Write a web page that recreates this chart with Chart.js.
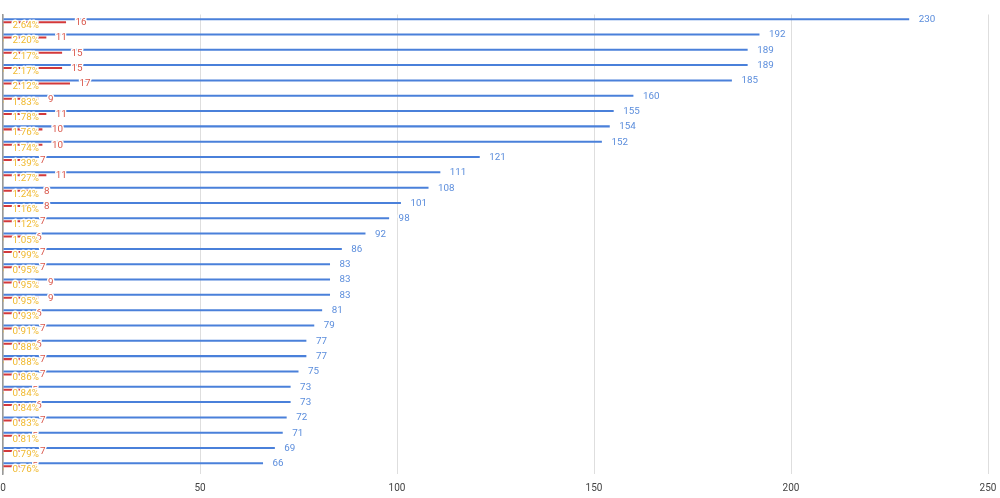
<!DOCTYPE html>
<html><head><meta charset="utf-8">
<script src="https://cdn.jsdelivr.net/npm/chart.js@4.4.1/dist/chart.umd.min.js"></script>
<style>html,body{margin:0;padding:0;background:#fff}#wrap{width:1000px;height:498px;position:relative}</style>
</head><body><div id="wrap"><canvas id="c"></canvas></div>
<script>
const categories = ["1","2","3","4","5","6","7","8","9","10","11","12","13","14","15","16","17","18","19","20","21","22","23","24","25","26","27","28","29","30"];
const blueValues = [230,192,189,189,185,160,155,154,152,121,111,108,101,98,92,86,83,83,83,81,79,77,77,75,73,73,72,71,69,66];
const redValues = [16,11,15,15,17,9,11,10,10,7,11,8,8,7,6,7,7,9,9,6,7,6,7,7,5,6,7,5,7,5];
const yellowPercents = [2.64,2.20,2.17,2.17,2.12,1.83,1.78,1.76,1.74,1.39,1.27,1.24,1.16,1.12,1.05,0.99,0.95,0.95,0.95,0.93,0.91,0.88,0.88,0.86,0.84,0.84,0.83,0.81,0.79,0.76];
const xTicks = [0,50,100,150,200,250];

const BLUE = '#4a80da', RED = '#d3393a', YELLOW = '#f1b62c';
const labelTexts = [
  blueValues.map(v => String(v)),
  redValues.map(v => String(v)),
  yellowPercents.map(v => v.toFixed(2) + '%')
];
const labelColors = ['#5b8ddc', '#d9574b', '#f0b92e'];

const labelPlugin = {
  id: 'barLabels',
  afterDatasetsDraw(chart) {
    const ctx = chart.ctx;
    ctx.save();
    ctx.font = '9.8px Roboto';
    ctx.textBaseline = 'middle';
    ctx.textAlign = 'left';
    ctx.lineJoin = 'round';
    chart.data.datasets.forEach((ds, i) => {
      const meta = chart.getDatasetMeta(i);
      meta.data.forEach((bar, j) => {
        const t = labelTexts[i][j];
        const x = bar.x + 9.5, y = bar.y + 0.5;
        ctx.lineWidth = 3;
        ctx.strokeStyle = '#fff';
        ctx.strokeText(t, x, y);
        ctx.fillStyle = labelColors[i];
        ctx.fillText(t, x, y);
      });
    });
    ctx.restore();
  }
};

new Chart(document.getElementById('c'), {
  type: 'bar',
  data: {
    labels: categories,
    datasets: [
      { data: blueValues, backgroundColor: BLUE, categoryPercentage: 0.587, barPercentage: 0.67 },
      { data: redValues, backgroundColor: RED, categoryPercentage: 0.587, barPercentage: 0.67 },
      { data: yellowPercents.map(v => v / 100), backgroundColor: YELLOW, categoryPercentage: 0.587, barPercentage: 0.67 }
    ]
  },
  options: {
    indexAxis: 'y',
    responsive: true,
    maintainAspectRatio: false,
    animation: false,
    layout: { padding: { left: 3, right: 12, top: 14.5, bottom: 0 } },
    plugins: { legend: { display: false }, tooltip: { enabled: false } },
    scales: {
      x: {
        min: 0, max: 250,
        afterBuildTicks: (s) => { s.ticks = xTicks.map(v => ({ value: v })); },
        afterFit: (s) => { s.height = 24; s.paddingLeft = 0; s.paddingRight = 0; },
        ticks: { color: '#444', font: { family: 'Roboto', size: 10 }, padding: 8 },
        grid: { color: '#dedede', drawTicks: false },
        border: { display: false }
      },
      y: {
        afterFit: (s) => { s.width = 0; s.paddingTop = 0; s.paddingBottom = 0; },
        ticks: { display: false },
        grid: { display: false },
        border: { display: true, color: '#999', width: 1.5 }
      }
    }
  },
  plugins: [labelPlugin]
});
</script>
</body></html>
